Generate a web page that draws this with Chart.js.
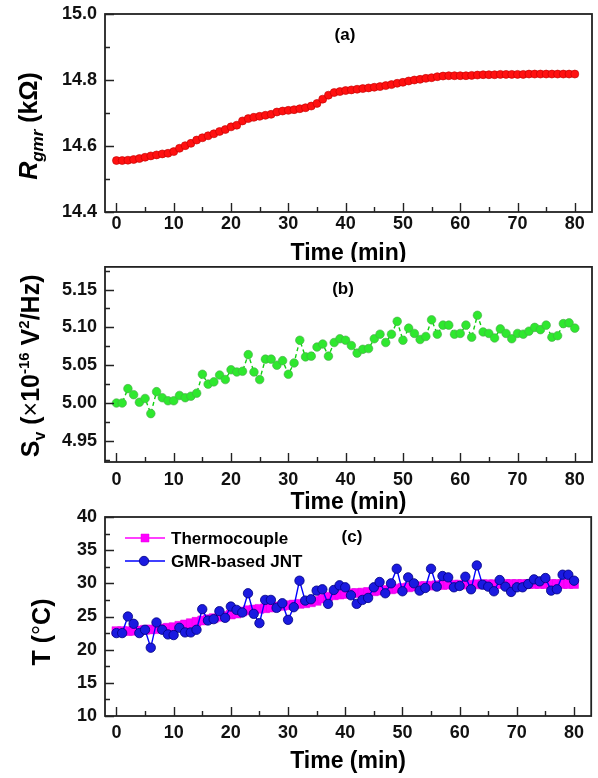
<!DOCTYPE html>
<html>
<head>
<meta charset="utf-8">
<title>GMR sensor vs time</title>
<script src="https://cdn.jsdelivr.net/npm/chart.js@4.4.1/dist/chart.umd.min.js"></script>
<style>
  html, body { margin: 0; padding: 0; background: #fff; }
  #wrap { position: relative; width: 598px; height: 778px; overflow: hidden; }
  canvas { position: absolute; left: 0; }
</style>
</head>
<body>
<div id="wrap">
  <canvas id="chartA" width="598" height="262" style="top:0"></canvas>
  <canvas id="chartB" width="598" height="256" style="top:262px"></canvas>
  <canvas id="chartC" width="598" height="272" style="top:506px"></canvas>
</div>
<script>
// time axis, one sample per minute
const minutes = [0, 1, 2, 3, 4, 5, 6, 7, 8, 9, 10, 11, 12, 13, 14, 15, 16, 17, 18, 19, 20,
  21, 22, 23, 24, 25, 26, 27, 28, 29, 30, 31, 32, 33, 34, 35, 36, 37, 38, 39, 40,
  41, 42, 43, 44, 45, 46, 47, 48, 49, 50, 51, 52, 53, 54, 55, 56, 57, 58, 59, 60,
  61, 62, 63, 64, 65, 66, 67, 68, 69, 70, 71, 72, 73, 74, 75, 76, 77, 78, 79, 80];

// (a) sensor resistance, kOhm
const rGmr = [14.556, 14.556, 14.557, 14.559, 14.562, 14.566, 14.570, 14.573, 14.576, 14.578,
  14.583, 14.593, 14.601, 14.608, 14.618, 14.625, 14.631, 14.637, 14.644, 14.650,
  14.658, 14.663, 14.676, 14.683, 14.687, 14.690, 14.693, 14.696, 14.703, 14.706,
  14.708, 14.710, 14.713, 14.716, 14.721, 14.729, 14.742, 14.754, 14.762, 14.765,
  14.768, 14.770, 14.772, 14.774, 14.776, 14.778, 14.780, 14.783, 14.786, 14.790,
  14.793, 14.797, 14.800, 14.802, 14.805, 14.807, 14.810, 14.812, 14.813, 14.813,
  14.813, 14.813, 14.814, 14.815, 14.816, 14.816, 14.816, 14.817, 14.817, 14.817,
  14.817, 14.817, 14.818, 14.818, 14.818, 14.818, 14.818, 14.818, 14.818, 14.818, 14.818];

// (b) noise power spectral density, 1e-16 V^2/Hz
const sV = [5.000, 5.000, 5.019, 5.011, 5.001, 5.006, 4.986, 5.015, 5.007, 5.003,
  5.003, 5.010, 5.007, 5.009, 5.013, 5.038, 5.025, 5.028, 5.037, 5.031,
  5.044, 5.041, 5.042, 5.064, 5.041, 5.031, 5.058, 5.058, 5.050, 5.056,
  5.038, 5.053, 5.083, 5.061, 5.062, 5.074, 5.078, 5.062, 5.080, 5.085,
  5.083, 5.076, 5.066, 5.071, 5.072, 5.085, 5.091, 5.080, 5.091, 5.108,
  5.083, 5.099, 5.092, 5.084, 5.088, 5.110, 5.091, 5.103, 5.103, 5.091,
  5.092, 5.103, 5.087, 5.116, 5.094, 5.092, 5.086, 5.098, 5.092, 5.085,
  5.092, 5.091, 5.095, 5.100, 5.097, 5.103, 5.087, 5.089, 5.105, 5.106, 5.099];

// (c) temperature, deg C
const tThermo = [22.8, 22.8, 22.8, 22.85, 22.9, 23.0, 23.05, 23.1, 23.2, 23.3,
  23.4, 23.6, 23.8, 24.0, 24.2, 24.4, 24.6, 24.75, 24.95, 25.1,
  25.3, 25.45, 25.75, 25.95, 26.05, 26.15, 26.25, 26.35, 26.5, 26.6,
  26.7, 26.8, 26.9, 27.0, 27.15, 27.35, 27.7, 28.0, 28.2, 28.3,
  28.4, 28.5, 28.55, 28.6, 28.7, 28.8, 28.9, 29.0, 29.1, 29.2,
  29.3, 29.4, 29.5, 29.55, 29.6, 29.65, 29.7, 29.75, 29.8, 29.8,
  29.8, 29.8, 29.8, 29.85, 29.85, 29.85, 29.85, 29.9, 29.9, 29.9,
  29.9, 29.9, 29.9, 29.9, 29.9, 29.9, 29.9, 29.9, 29.9, 29.9, 29.9];
const tJnt = [22.5, 22.5, 25.0, 23.9, 22.5, 23.0, 20.3, 24.1, 23.0, 22.3,
  22.2, 23.3, 22.6, 22.6, 23.0, 26.1, 24.4, 24.6, 25.8, 24.8,
  26.5, 26.0, 25.6, 28.5, 25.4, 24.0, 27.5, 27.5, 26.3, 27.0,
  24.5, 26.4, 30.4, 27.4, 27.6, 28.9, 29.1, 26.9, 29.0, 29.7,
  29.4, 28.2, 26.9, 27.5, 27.8, 29.4, 30.2, 28.5, 30.0, 32.2,
  28.8, 30.9, 30.0, 28.9, 29.3, 32.2, 29.5, 31.1, 30.9, 29.4,
  29.6, 31.0, 29.1, 32.7, 29.8, 29.5, 28.8, 30.5, 29.5, 28.7,
  29.4, 29.4, 29.9, 30.6, 30.3, 30.8, 28.9, 29.1, 31.3, 31.3, 30.4];

// tick values
const xTicks = [0, 10, 20, 30, 40, 50, 60, 70, 80];
const xMinor = [5, 15, 25, 35, 45, 55, 65, 75];
const rTicks = [14.4, 14.6, 14.8, 15.0];
const rMinor = [14.5, 14.7, 14.9];
const sTicks = [4.95, 5.00, 5.05, 5.10, 5.15];
const sMinor = [4.925, 4.975, 5.025, 5.075, 5.125, 5.175];
const tTicks = [10, 15, 20, 25, 30, 35, 40];
const tMinor = [12.5, 17.5, 22.5, 27.5, 32.5, 37.5];

const FONT = '"Liberation Sans", Arial, Helvetica, sans-serif';
Chart.defaults.font.family = FONT;
Chart.defaults.color = '#111';

function points(ys) {
  return minutes.map((m, i) => ({ x: m, y: ys[i] }));
}

// rotated y-axis title made of runs (sub/superscripts, italics)
function drawVertical(ctx, parts, bx, cy) {
  let total = 0;
  parts.forEach(p => { ctx.font = p.font; p.w = ctx.measureText(p.text).width; total += p.w; });
  ctx.save();
  ctx.translate(bx, cy);
  ctx.rotate(-Math.PI / 2);
  ctx.textAlign = 'left';
  ctx.textBaseline = 'alphabetic';
  ctx.fillStyle = '#000';
  let pos = -total / 2;
  parts.forEach(p => {
    ctx.font = p.font;
    ctx.fillText(p.text, pos, p.dy || 0);
    pos += p.w;
  });
  ctx.restore();
}

// box frame, inward ticks, panel tag and axis titles
const framePlugin = {
  id: 'frame',
  afterDraw(chart, args, o) {
    const { ctx, chartArea: a, scales: { x, y } } = chart;
    ctx.save();
    ctx.strokeStyle = '#222';
    ctx.lineWidth = 1.8;
    ctx.strokeRect(a.left, a.top, a.right - a.left, a.bottom - a.top);

    ctx.lineWidth = 1.4;
    ctx.beginPath();
    const xt = (vals, len) => vals.forEach(v => {
      const px = Math.round(x.getPixelForValue(v)) + 0.5;
      ctx.moveTo(px, a.bottom); ctx.lineTo(px, a.bottom - len);
    });
    const yt = (vals, len) => vals.forEach(v => {
      const py = Math.round(y.getPixelForValue(v)) + 0.5;
      ctx.moveTo(a.left, py); ctx.lineTo(a.left + len, py);
    });
    xt(xTicks, 9); xt(xMinor, 5);
    yt(o.yMajor, 9); yt(o.yMinor, 5);
    ctx.stroke();

    ctx.fillStyle = '#000';
    ctx.textAlign = 'center';
    ctx.textBaseline = 'middle';
    ctx.font = 'bold 17px ' + FONT;
    ctx.fillText(o.tag, o.tagX, a.top + o.tagDy);

    ctx.font = 'bold 23px ' + FONT;
    ctx.fillText('Time (min)', (a.left + a.right) / 2, a.bottom + o.xTitleDy);

    drawVertical(ctx, o.yTitle, o.yTitleX, a.top + o.yTitleDy);
    ctx.restore();
  }
};

// legend for panel (c): line sample with marker, then label
const legendPlugin = {
  id: 'sampleLegend',
  afterDraw(chart, args, o) {
    if (!o.rows) return;
    const { ctx, chartArea: a } = chart;
    ctx.save();
    o.rows.forEach((row, i) => {
      const ds = chart.data.datasets[row.index];
      const cy = a.top + o.top + i * o.gap;
      const x0 = a.left + o.left;
      ctx.strokeStyle = ds.borderColor;
      ctx.lineWidth = 1.6;
      ctx.beginPath();
      ctx.moveTo(x0, cy); ctx.lineTo(x0 + 40, cy);
      ctx.stroke();
      ctx.fillStyle = ds.pointBackgroundColor;
      ctx.strokeStyle = ds.pointBorderColor;
      ctx.lineWidth = ds.pointBorderWidth;
      ctx.beginPath();
      if (ds.pointStyle === 'rect') {
        ctx.rect(x0 + 20 - 4, cy - 4, 8, 8);
      } else {
        ctx.arc(x0 + 19, cy, ds.pointRadius, 0, Math.PI * 2);
      }
      ctx.fill();
      ctx.stroke();
      ctx.fillStyle = '#000';
      ctx.font = 'bold 17px ' + FONT;
      ctx.textAlign = 'left';
      ctx.textBaseline = 'middle';
      ctx.fillText(ds.label, x0 + 46, cy + 1);
    });
    ctx.restore();
  }
};

function makeOptions(p) {
  return {
    responsive: false,
    animation: false,
    events: [],
    layout: { padding: { top: p.top, right: 6, left: 0, bottom: 0 } },
    plugins: {
      legend: { display: false },
      tooltip: { enabled: false },
      frame: p.frame,
      sampleLegend: p.legend || {}
    },
    scales: {
      x: {
        type: 'linear',
        min: -2,
        max: 83,
        grid: { display: false, drawTicks: false },
        border: { display: false },
        afterBuildTicks: s => { s.ticks = xTicks.map(v => ({ value: v })); },
        afterFit: s => {
          s.height = p.xHeight;
          s.paddingLeft = 0; s.paddingRight = 0;
        },
        ticks: { font: { size: 18, weight: 'bold' }, color: '#111', padding: p.xPad, maxRotation: 0 }
      },
      y: {
        min: p.yMin,
        max: p.yMax,
        grid: { display: false, drawTicks: false },
        border: { display: false },
        afterBuildTicks: s => { s.ticks = p.yTicks.map(v => ({ value: v })); },
        afterFit: s => {
          s.width = 105;
          s.paddingTop = 0; s.paddingBottom = 0;
        },
        ticks: {
          font: { size: 18, weight: 'bold' },
          color: '#111',
          padding: 8,
          callback: v => Number(v).toFixed(p.digits)
        }
      }
    }
  };
}

// (a) resistance
new Chart(document.getElementById('chartA'), {
  type: 'line',
  data: {
    datasets: [{
      label: 'R_gmr',
      data: points(rGmr),
      showLine: false,
      pointRadius: 4,
      pointBackgroundColor: '#ff1010',
      pointBorderColor: '#c00000',
      pointBorderWidth: 0.6
    }]
  },
  options: makeOptions({
    top: 14, xHeight: 50, xPad: 1, yMin: 14.4, yMax: 15.0, yTicks: rTicks, digits: 1,
    frame: {
      yMajor: rTicks, yMinor: rMinor, tag: '(a)', tagX: 345, tagDy: 21, xTitleDy: 41.5,
      yTitleX: 37, yTitleDy: 112,
      yTitle: [
        { text: 'R', font: 'italic bold 25px ' + FONT },
        { text: 'gmr', font: 'italic bold 17px ' + FONT, dy: 6 },
        { text: ' (k\u03A9)', font: 'bold 25px ' + FONT }
      ]
    }
  }),
  plugins: [framePlugin]
});

// (b) noise PSD
new Chart(document.getElementById('chartB'), {
  type: 'line',
  data: {
    datasets: [{
      label: 'S_v',
      data: points(sV),
      borderColor: '#10d010',
      borderWidth: 1.4,
      borderDash: [4, 3],
      tension: 0,
      pointRadius: 4.3,
      pointBackgroundColor: '#2ee82e',
      pointBorderColor: '#4aa84a',
      pointBorderWidth: 0.6
    }]
  },
  options: makeOptions({
    top: 4, xHeight: 56, xPad: 7, yMin: 4.922, yMax: 5.18, yTicks: sTicks, digits: 2,
    frame: {
      yMajor: sTicks, yMinor: sMinor, tag: '(b)', tagX: 343, tagDy: 22, xTitleDy: 41,
      yTitleX: 38.5, yTitleDy: 99,
      yTitle: [
        { text: 'S', font: 'bold 25px ' + FONT },
        { text: 'v', font: 'bold 16px ' + FONT, dy: 6 },
        { text: ' (', font: 'bold 25px ' + FONT },
        { text: '\u00D7', font: '25px ' + FONT },
        { text: '10', font: 'bold 25px ' + FONT },
        { text: '-16', font: 'bold 15px ' + FONT, dy: -10 },
        { text: ' V', font: 'bold 25px ' + FONT },
        { text: '2', font: 'bold 15px ' + FONT, dy: -10 },
        { text: '/Hz)', font: 'bold 25px ' + FONT }
      ]
    }
  }),
  plugins: [framePlugin]
});

// (c) temperature: thermocouple vs noise thermometer
new Chart(document.getElementById('chartC'), {
  type: 'line',
  data: {
    datasets: [{
      label: 'Thermocouple',
      data: points(tThermo),
      order: 2,
      borderColor: '#ff00ff',
      borderWidth: 1.6,
      tension: 0,
      pointStyle: 'rect',
      pointRadius: 6.3,
      pointBackgroundColor: '#ff00ff',
      pointBorderColor: '#e000e0',
      pointBorderWidth: 0.5
    }, {
      label: 'GMR-based JNT',
      data: points(tJnt),
      order: 1,
      borderColor: '#0000ff',
      borderWidth: 1.4,
      tension: 0,
      pointRadius: 4.7,
      pointBackgroundColor: '#1a1ae0',
      pointBorderColor: '#000080',
      pointBorderWidth: 0.8
    }]
  },
  options: makeOptions({
    top: 11, xHeight: 62, xPad: 6, yMin: 10, yMax: 40, yTicks: tTicks, digits: 0,
    frame: {
      yMajor: tTicks, yMinor: tMinor, tag: '(c)', tagX: 352, tagDy: 20, xTitleDy: 45.5,
      yTitleX: 50, yTitleDy: 115,
      yTitle: [
        { text: 'T (', font: 'bold 25px ' + FONT },
        { text: '\u00B0', font: '25px ' + FONT },
        { text: 'C)', font: 'bold 25px ' + FONT }
      ]
    },
    legend: { top: 21, gap: 23, left: 20, rows: [{ index: 0 }, { index: 1 }] }
  }),
  plugins: [framePlugin, legendPlugin]
});
</script>
</body>
</html>
